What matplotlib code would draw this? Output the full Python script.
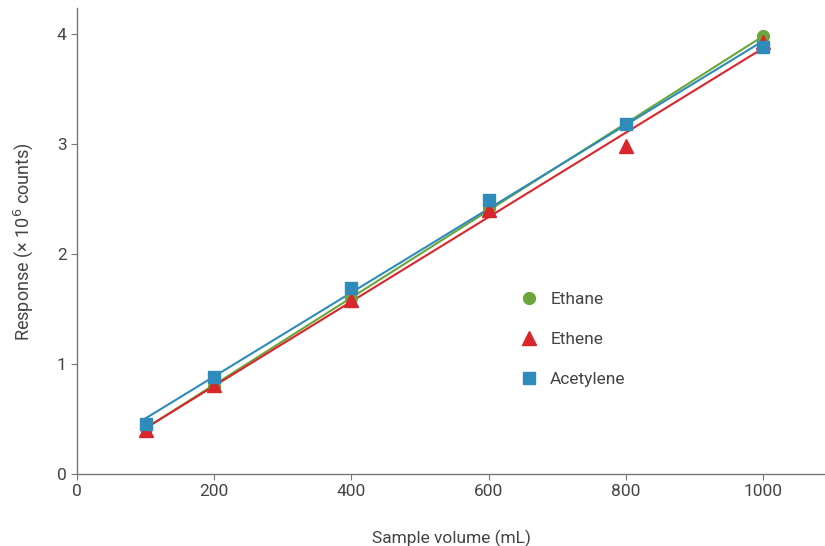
import numpy as np
import matplotlib
matplotlib.use("Agg")
import matplotlib.pyplot as plt

volume = [100, 200, 400, 600, 800, 1000]
ethane = [0.42, 0.80, 1.60, 2.42, 3.18, 3.98]
ethene = [0.40, 0.81, 1.58, 2.40, 2.98, 3.93]
acetylene = [0.45, 0.88, 1.69, 2.49, 3.18, 3.88]

series = [
    ("Ethane", ethane, "#6aa639", "o", 8.5),
    ("Ethene", ethene, "#d9262c", "^", 9.5),
    ("Acetylene", acetylene, "#2f8bb9", "s", 8.0),
]

plt.rcParams["font.family"] = ["Roboto", "DejaVu Sans"]
text_color = "#444444"

fig = plt.figure(figsize=(8.25, 5.46), dpi=100)
ax = fig.add_axes([0.0933, 0.132, 0.9067, 0.853])

x = np.array(volume)
xfit = np.array([min(volume), max(volume)])
line_order = [0, 2, 1]
for i in line_order:
    name, y, color, marker, ms = series[i]
    k, b = np.polyfit(x, y, 1)
    ax.plot(xfit, k * xfit + b, color=color, lw=1.5, zorder=2)

for name, y, color, marker, ms in series:
    ax.plot(volume, y, linestyle="none", marker=marker, ms=ms, color=color,
            label=name, zorder=3)

ax.set_xlim(0, 1090)
ax.set_ylim(0, 4.236)
ax.set_xticks([0, 200, 400, 600, 800, 1000])
ax.set_yticks([0, 1, 2, 3, 4])
for s in ["top", "right"]:
    ax.spines[s].set_visible(False)
for s in ["left", "bottom"]:
    ax.spines[s].set_color("#777777")
    ax.spines[s].set_linewidth(1.0)
ax.tick_params(colors="#777777", labelcolor=text_color, labelsize=12.5, length=4)
ax.set_xlabel("Sample volume (mL)", fontsize=12.5, color=text_color, labelpad=22)
ax.set_ylabel("Response (× 10$^6$ counts)", fontsize=13, color=text_color, labelpad=16)

leg = ax.legend(loc="upper left", bbox_to_anchor=(0.57, 0.425), frameon=False,
                fontsize=12.5, handletextpad=0.6, labelspacing=1.45, handlelength=1.2)
for t in leg.get_texts():
    t.set_color(text_color)

fig.savefig("out.png", dpi=100)
